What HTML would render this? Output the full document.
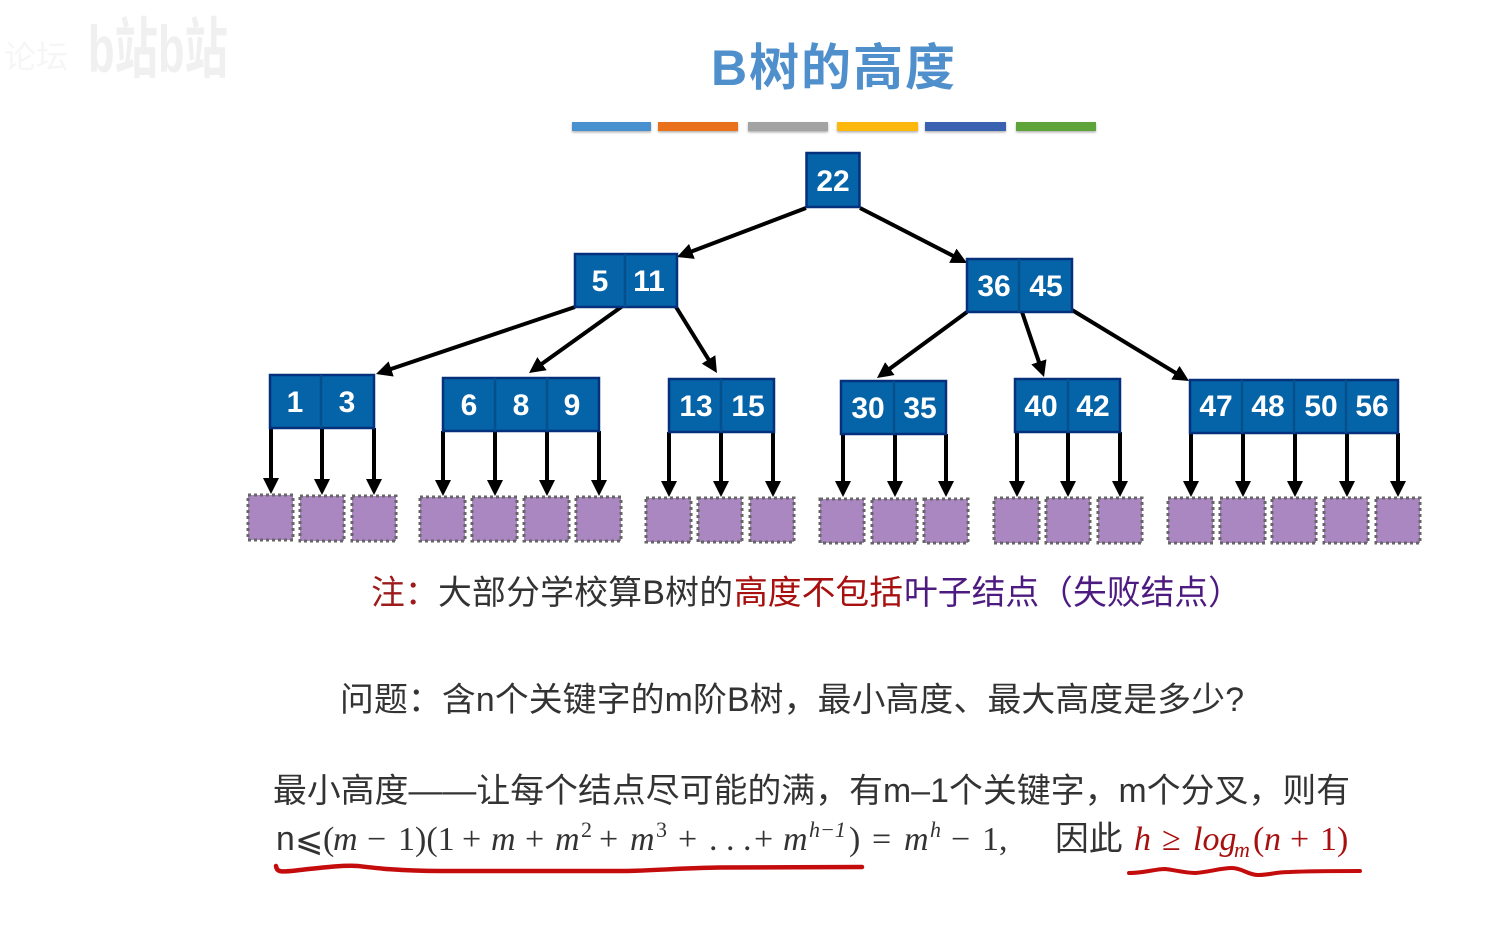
<!DOCTYPE html>
<html><head><meta charset="utf-8">
<style>
html,body{margin:0;padding:0;background:#fff;width:1501px;height:935px;overflow:hidden}
svg{display:block}
.node{fill:#0563a8;stroke:#04307c;stroke-width:2.5}
.div{stroke:#04508c;stroke-width:2.5}
.num{font-family:"Liberation Sans",sans-serif;font-size:30px;font-weight:bold;fill:#fff;text-anchor:middle}
.leaf{fill:#ab87c2;stroke:#666;stroke-width:3;stroke-dasharray:3 3}
.a{stroke:#000;stroke-width:4;marker-end:url(#ah);fill:none}
.cjk{font-family:"Liberation Sans","Noto Sans CJK SC",sans-serif;font-size:33.8px;fill:#333}
.m{font-family:"Liberation Serif",serif;font-size:34px;fill:#333}
.i{font-style:italic}
.sup{font-size:22px}
</style></head><body>
<svg width="1501" height="935" viewBox="0 0 1501 935" xmlns="http://www.w3.org/2000/svg">
<defs>
<marker id="ah" markerUnits="userSpaceOnUse" markerWidth="18" markerHeight="18" refX="10" refY="8" orient="auto"><path d="M0 0L16 8L0 16z" fill="#000"/></marker>
<filter id="sh" x="-5%" y="-30%" width="110%" height="180%"><feDropShadow dx="0" dy="1.5" stdDeviation="1" flood-color="#000" flood-opacity=".3"/></filter>
</defs>

<text x="4" y="68" font-family="Noto Sans CJK SC,sans-serif" font-size="32" fill="#f6f6f6">论坛</text>
<text x="88" y="72" font-family="Liberation Sans,Noto Sans CJK SC,sans-serif" font-size="66" font-weight="bold" fill="#f0f0f0" textLength="140" lengthAdjust="spacingAndGlyphs">b站b站</text>

<text x="711" y="85" font-family="Liberation Sans,Noto Sans CJK SC,sans-serif" font-size="50" font-weight="bold" fill="#4f8fcb" textLength="244">B树的高度</text>

<g filter="url(#sh)">
<rect x="572" y="122" width="79" height="9" fill="#4a90cf"/>
<rect x="658" y="122" width="80" height="9" fill="#e9711c"/>
<rect x="748" y="122" width="80" height="9" fill="#a3a3a3"/>
<rect x="837" y="122" width="81" height="9" fill="#fdb80d"/>
<rect x="925" y="122" width="81" height="9" fill="#3a62b0"/>
<rect x="1016" y="122" width="80" height="9" fill="#5ea33b"/>
</g>

<!-- arrows -->
<line class="a" x1="806" y1="208" x2="682.600" y2="254.900"/>
<line class="a" x1="860" y1="208" x2="961.700" y2="260.300"/>
<line class="a" x1="575" y1="307" x2="381.700" y2="372.100"/>
<line class="a" x1="624" y1="305" x2="533.900" y2="369.500"/>
<line class="a" x1="676" y1="307" x2="713.800" y2="367.900"/>
<line class="a" x1="967" y1="312" x2="881.800" y2="374.500"/>
<line class="a" x1="1022" y1="312" x2="1042.100" y2="371.300"/>
<line class="a" x1="1072" y1="310" x2="1183.900" y2="377.900"/>

<line class="a" x1="271" y1="428" x2="271" y2="488"/>
<line class="a" x1="322" y1="428" x2="322" y2="489"/>
<line class="a" x1="374" y1="428" x2="374" y2="489"/>
<line class="a" x1="443" y1="431" x2="443" y2="490"/>
<line class="a" x1="495" y1="431" x2="495" y2="490"/>
<line class="a" x1="547" y1="431" x2="547" y2="490"/>
<line class="a" x1="599" y1="431" x2="599" y2="490"/>
<line class="a" x1="669" y1="432" x2="669" y2="491"/>
<line class="a" x1="721" y1="432" x2="721" y2="491"/>
<line class="a" x1="773" y1="432" x2="773" y2="491"/>
<line class="a" x1="843" y1="434" x2="843" y2="491"/>
<line class="a" x1="895" y1="434" x2="895" y2="491"/>
<line class="a" x1="946" y1="434" x2="946" y2="491"/>
<line class="a" x1="1017" y1="432" x2="1017" y2="491"/>
<line class="a" x1="1068" y1="432" x2="1068" y2="491"/>
<line class="a" x1="1120" y1="432" x2="1120" y2="491"/>
<line class="a" x1="1191" y1="433" x2="1191" y2="491"/>
<line class="a" x1="1243" y1="433" x2="1243" y2="491"/>
<line class="a" x1="1295" y1="433" x2="1295" y2="491"/>
<line class="a" x1="1347" y1="433" x2="1347" y2="491"/>
<line class="a" x1="1398" y1="433" x2="1398" y2="491"/>

<!-- nodes -->
<rect class="node" x="806.500" y="153" width="53" height="54"/>
<text class="num" x="833" y="191">22</text>

<rect class="node" x="575" y="254" width="102" height="53"/>
<line class="div" x1="625" y1="254" x2="625" y2="307"/>
<text class="num" x="600" y="291">5</text><text class="num" x="649" y="291">11</text>

<rect class="node" x="967" y="259" width="105" height="53"/>
<line class="div" x1="1019" y1="259" x2="1019" y2="312"/>
<text class="num" x="994" y="296">36</text><text class="num" x="1046" y="296">45</text>

<rect class="node" x="270" y="375" width="104" height="53"/>
<line class="div" x1="321" y1="375" x2="321" y2="428"/>
<text class="num" x="295" y="412">1</text><text class="num" x="347" y="412">3</text>

<rect class="node" x="443" y="378" width="156" height="53"/>
<line class="div" x1="495" y1="378" x2="495" y2="431"/><line class="div" x1="547" y1="378" x2="547" y2="431"/>
<text class="num" x="469" y="415">6</text><text class="num" x="521" y="415">8</text><text class="num" x="572" y="415">9</text>

<rect class="node" x="669" y="379" width="105" height="53"/>
<line class="div" x1="721" y1="379" x2="721" y2="432"/>
<text class="num" x="696" y="416">13</text><text class="num" x="748" y="416">15</text>

<rect class="node" x="841" y="381" width="105" height="53"/>
<line class="div" x1="894" y1="381" x2="894" y2="434"/>
<text class="num" x="868" y="418">30</text><text class="num" x="920" y="418">35</text>

<rect class="node" x="1015" y="379" width="105" height="53"/>
<line class="div" x1="1068" y1="379" x2="1068" y2="432"/>
<text class="num" x="1041" y="416">40</text><text class="num" x="1093" y="416">42</text>

<rect class="node" x="1190" y="380" width="208" height="53"/>
<line class="div" x1="1242" y1="380" x2="1242" y2="433"/><line class="div" x1="1294" y1="380" x2="1294" y2="433"/><line class="div" x1="1346" y1="380" x2="1346" y2="433"/>
<text class="num" x="1216" y="416">47</text><text class="num" x="1268" y="416">48</text><text class="num" x="1321" y="416">50</text><text class="num" x="1372" y="416">56</text>

<!-- leaves -->
<rect class="leaf" x="248" y="495" width="45" height="45"/>
<rect class="leaf" x="300" y="496" width="44" height="45"/>
<rect class="leaf" x="352" y="496" width="44" height="45"/>
<rect class="leaf" x="420" y="497" width="45" height="44"/>
<rect class="leaf" x="472" y="497" width="45" height="44"/>
<rect class="leaf" x="524" y="497" width="45" height="44"/>
<rect class="leaf" x="576" y="497" width="45" height="44"/>
<rect class="leaf" x="646" y="498" width="45" height="44"/>
<rect class="leaf" x="698" y="498" width="44" height="44"/>
<rect class="leaf" x="750" y="498" width="44" height="44"/>
<rect class="leaf" x="820" y="499" width="44" height="44"/>
<rect class="leaf" x="872" y="499" width="45" height="44"/>
<rect class="leaf" x="924" y="499" width="44" height="44"/>
<rect class="leaf" x="994" y="498" width="45" height="45"/>
<rect class="leaf" x="1046" y="498" width="44" height="45"/>
<rect class="leaf" x="1098" y="498" width="44" height="45"/>
<rect class="leaf" x="1168" y="498" width="45" height="45"/>
<rect class="leaf" x="1220" y="498" width="45" height="45"/>
<rect class="leaf" x="1272" y="498" width="44" height="45"/>
<rect class="leaf" x="1324" y="498" width="44" height="45"/>
<rect class="leaf" x="1376" y="498" width="44" height="45"/>

<!-- text -->
<text class="cjk" x="371" y="604" style="fill:#9c1c1c">注：</text>
<text class="cjk" x="438" y="604" textLength="295">大部分学校算B树的</text>
<text class="cjk" x="734" y="604" style="fill:#a80f0f">高度不包括</text>
<text class="cjk" x="904" y="604" style="fill:#4d1a80">叶子结点（失败结点）</text>
<text class="cjk" x="340" y="711" textLength="904">问题：含n个关键字的m阶B树，最小高度、最大高度是多少?</text>
<text class="cjk" x="273" y="802" textLength="1077">最小高度——让每个结点尽可能的满，有m–1个关键字，m个分叉，则有</text>

<text class="cjk" x="276" y="850">n</text>
<text x="295" y="851" font-family="DejaVu Sans,sans-serif" font-size="34" fill="#333">⩽</text>
<text class="m" y="850"><tspan x="323">(</tspan><tspan x="333" class="i">m</tspan><tspan x="367">−</tspan><tspan x="398">1)(1</tspan><tspan x="462">+</tspan><tspan x="491" class="i">m</tspan><tspan x="525">+</tspan><tspan x="555" class="i">m</tspan><tspan x="581" dy="-13" class="sup">2</tspan><tspan x="599" dy="13">+</tspan><tspan x="630" class="i">m</tspan><tspan x="656" dy="-13" class="sup">3</tspan><tspan x="678" dy="13">+</tspan><tspan x="709">. . .</tspan><tspan x="754">+</tspan><tspan x="783" class="i">m</tspan><tspan x="809" dy="-13" class="sup i">h−1</tspan><tspan x="849" dy="13">)</tspan><tspan x="872">=</tspan><tspan x="904" class="i">m</tspan><tspan x="930" dy="-13" class="sup i">h</tspan><tspan x="951" dy="13">−</tspan><tspan x="982">1,</tspan></text>
<text class="cjk" x="1055" y="850">因此</text>
<text class="m" y="850" style="fill:#a80f0f"><tspan x="1134" class="i">h</tspan><tspan x="1162">≥</tspan><tspan x="1193" class="i">log</tspan><tspan x="1234" dy="7" class="sup i">m</tspan><tspan x="1253" dy="-7">(</tspan><tspan x="1264" class="i">n</tspan><tspan x="1290">+</tspan><tspan x="1320">1)</tspan></text>

<path d="M276 866C277 873 282 872 300 870C320 868 340 865 358 866C375 868 400 871 440 871L620 871C650 871 680 868 720 867.500L862 867" fill="none" stroke="#c40c0c" stroke-width="4.500" stroke-linecap="round"/>
<path d="M1129 873C1145 873 1155 869 1165 869C1175 870 1185 873 1195 873C1210 872 1220 868 1232 868C1242 868 1248 875 1258 875C1270 875 1275 872 1290 872C1310 871 1340 871 1360 871" fill="none" stroke="#c40c0c" stroke-width="4" stroke-linecap="round"/>
</svg>
</body></html>
